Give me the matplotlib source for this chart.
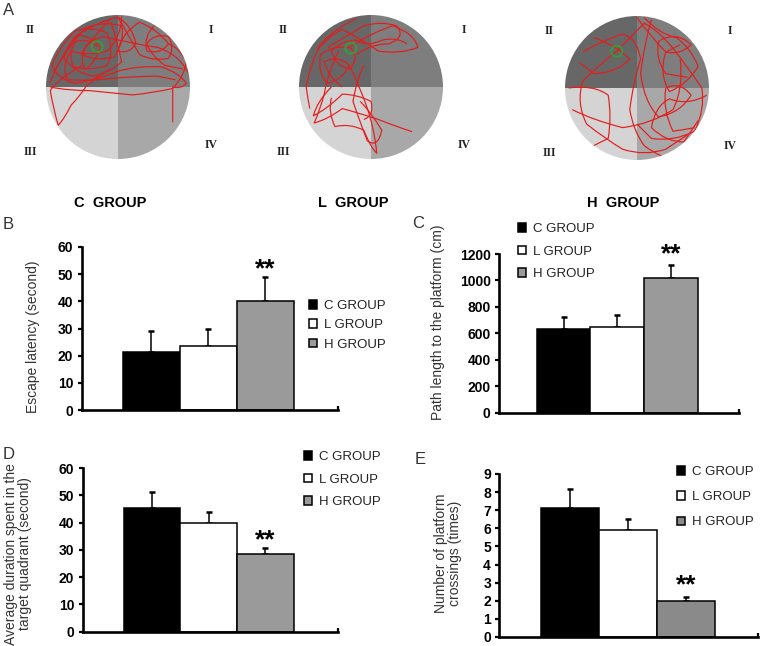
import numpy as np
import matplotlib
matplotlib.use("Agg")
import matplotlib.pyplot as plt
from matplotlib.patches import Wedge, Circle, PathPatch
from matplotlib.path import Path

plt.rcParams['font.family'] = ['Liberation Sans', 'DejaVu Sans']

# ---- data -------------------------------------------------------------
groups = ["C GROUP", "L GROUP", "H GROUP"]
group_titles = ["C  GROUP", "L  GROUP", "H  GROUP"]

escape_latency = [21.5, 23.5, 40.0]
escape_latency_err = [7.5, 6.3, 8.8]

path_length = [635, 645, 1015]
path_length_err = [85, 90, 105]

target_duration = [45.5, 40.0, 28.5]
target_duration_err = [5.8, 3.7, 2.3]

crossings = [7.15, 5.9, 2.0]
crossings_err = [1.0, 0.6, 0.2]

quadrant_labels = ["I", "II", "III", "IV"]

# swim tracks (unit circle coords, y up); odd points act as curve controls
swim_c = [
    [(-0.29, 0.56), (-0.45, 0.7), (-0.6, 0.62), (-0.7, 0.45), (-0.62, 0.28), (-0.4, 0.22),
     (-0.15, 0.3), (-0.05, 0.5), (-0.15, 0.75), (-0.35, 0.85), (-0.6, 0.78), (-0.82, 0.55),
     (-0.92, 0.3), (-0.85, 0.12), (-0.6, 0.05), (-0.3, 0.1), (0.0, 0.22), (0.3, 0.3),
     (0.6, 0.28), (0.85, 0.2), (0.95, 0.05), (0.88, -0.03), (0.76, 0.0), (0.76, -0.25),
     (0.76, -0.49)],
    [(-0.95, 0.05), (-0.8, 0.4), (-0.6, 0.7), (-0.3, 0.9), (0.0, 0.97), (0.2, 0.85),
     (0.25, 0.6), (0.15, 0.45), (0.0, 0.5), (0.05, 0.75), (0.3, 0.9), (0.55, 0.8),
     (0.7, 0.6), (0.6, 0.45), (0.4, 0.5), (0.35, 0.7), (0.5, 0.85)],
    [(-0.94, 0.0), (-0.7, -0.05), (-0.4, -0.05), (-0.1, -0.08), (0.2, -0.11), (0.5, -0.08),
     (0.76, -0.02), (0.92, 0.15), (0.95, 0.35), (0.85, 0.55), (0.7, 0.6)],
    [(-0.5, 0.3), (-0.85, 0.1), (-0.94, -0.05), (-0.9, -0.3), (-0.83, -0.53), (-0.75, -0.45),
     (-0.65, -0.25), (-0.53, -0.13), (-0.45, 0.0), (-0.3, 0.15), (-0.1, 0.25)],
    [(-0.1, 0.95), (-0.25, 0.8), (-0.45, 0.55), (-0.55, 0.35), (-0.45, 0.25), (-0.3, 0.35),
     (-0.25, 0.55), (-0.35, 0.7), (-0.55, 0.72), (-0.7, 0.6), (-0.75, 0.4), (-0.6, 0.2),
     (-0.35, 0.15), (-0.1, 0.2), (0.05, 0.35), (0.0, 0.6), (-0.1, 0.9)],
    [(0.0, 0.97), (0.15, 0.7), (0.3, 0.45), (0.5, 0.35), (0.7, 0.4), (0.8, 0.55),
     (0.7, 0.7), (0.5, 0.75), (0.4, 0.6), (0.45, 0.45), (0.65, 0.3), (0.8, 0.27),
     (0.9, 0.25)],
    [(-0.9, 0.2), (-0.7, 0.55), (-0.45, 0.82), (-0.2, 0.92), (0.05, 0.85), (0.1, 0.65),
     (-0.05, 0.42), (-0.3, 0.35), (-0.5, 0.45), (-0.45, 0.65), (-0.2, 0.7), (0.2, 0.6),
     (0.55, 0.55), (0.85, 0.45), (0.97, 0.2)],
    [(0.05, 0.98), (0.05, 0.7), (-0.15, 0.5), (-0.4, 0.42), (-0.65, 0.5), (-0.8, 0.3),
     (-0.7, 0.1), (-0.4, 0.08), (-0.1, 0.12), (0.25, 0.15), (0.55, 0.15), (0.7, 0.12),
     (0.8, 0.1)],
]
swim_l = [
    [(-0.28, 0.54), (-0.5, 0.6), (-0.7, 0.45), (-0.75, 0.2), (-0.6, 0.05), (-0.4, 0.1),
     (-0.3, 0.3), (-0.45, 0.45), (-0.65, 0.35), (-0.6, 0.15), (-0.4, 0.0)],
    [(-0.3, 0.55), (0.0, 0.75), (0.3, 0.85), (0.6, 0.75), (0.65, 0.55), (0.4, 0.45),
     (0.1, 0.5), (-0.1, 0.65), (-0.4, 0.8), (-0.6, 0.7), (-0.75, 0.5)],
    [(-0.45, 0.5), (-0.6, 0.2), (-0.65, -0.1), (-0.7, -0.3), (-0.79, -0.5), (-0.6, -0.45),
     (-0.4, -0.3), (-0.2, -0.35), (0.1, -0.45), (0.35, -0.55), (0.57, -0.62)],
    [(-0.3, 0.3), (-0.15, 0.0), (-0.05, -0.3), (0.05, -0.6), (0.08, -0.92), (0.0, -0.85),
     (-0.1, -0.6), (-0.3, -0.5), (-0.5, -0.55), (-0.6, -0.35), (-0.55, -0.15)],
    [(-0.55, 0.0), (-0.75, -0.2), (-0.8, -0.4), (-0.6, -0.3), (-0.4, -0.1), (-0.2, -0.1),
     (0.0, -0.2), (0.05, -0.4), (-0.1, -0.45)],
    [(-0.28, 0.54), (-0.15, 0.4), (-0.3, 0.25), (-0.5, 0.3), (-0.55, 0.5), (-0.4, 0.65),
     (-0.2, 0.65), (-0.05, 0.55), (0.15, 0.65), (0.35, 0.7), (0.5, 0.6)],
    [(-0.2, 0.95), (-0.45, 0.85), (-0.7, 0.6), (-0.85, 0.3), (-0.9, 0.0), (-0.88, -0.15),
     (-0.85, -0.3)],
    [(-0.6, 0.55), (-0.35, 0.7), (-0.1, 0.85), (0.15, 0.92), (0.35, 0.85), (0.5, 0.7),
     (0.25, 0.6), (0.0, 0.6), (-0.2, 0.45)],
    [(-0.1, 0.3), (-0.2, 0.1), (-0.25, -0.2), (-0.15, -0.5), (-0.05, -0.75), (0.1, -0.85),
     (0.15, -0.6), (0.0, -0.35), (-0.15, -0.2)],
]
swim_h = [
    [(-0.28, 0.51), (-0.1, 0.7), (0.1, 0.9), (0.3, 0.8), (0.5, 0.55), (0.7, 0.3),
     (0.9, 0.0), (0.95, -0.3), (0.8, -0.6), (0.5, -0.75), (0.2, -0.7), (0.1, -0.6),
     (0.0, -0.5)],
    [(-0.28, 0.51), (-0.5, 0.35), (-0.75, 0.1), (-0.85, -0.2), (-0.7, -0.5), (-0.45, -0.7),
     (-0.2, -0.85), (0.1, -0.95), (0.4, -0.85), (0.55, -0.75), (0.7, -0.65)],
    [(-0.95, 0.0), (-0.6, 0.05), (-0.4, -0.1), (-0.35, -0.4), (-0.4, -0.7), (-0.5, -0.75),
     (-0.6, -0.8)],
    [(0.0, 0.98), (0.2, 0.7), (0.4, 0.5), (0.6, 0.45), (0.75, 0.6), (0.55, 0.8),
     (0.3, 0.65), (0.25, 0.4), (0.4, 0.2), (0.55, 0.17), (0.7, 0.15)],
    [(0.2, 0.95), (0.1, 0.6), (0.05, 0.2), (0.1, -0.2), (0.3, -0.4), (0.6, -0.35),
     (0.75, -0.1), (0.6, 0.1), (0.4, 0.0), (0.35, -0.3), (0.5, -0.6), (0.65, -0.58),
     (0.8, -0.55)],
    [(-0.6, 0.7), (-0.3, 0.6), (-0.1, 0.4), (-0.3, 0.2), (-0.6, 0.2), (-0.7, 0.28),
     (-0.8, 0.35)],
    [(-0.9, -0.3), (-0.6, -0.45), (-0.2, -0.55), (0.2, -0.5), (0.5, -0.3), (0.65, 0.0),
     (0.6, 0.4)],
    [(0.1, 0.98), (0.3, 0.75), (0.55, 0.7), (0.75, 0.55), (0.85, 0.3), (0.7, 0.05),
     (0.45, -0.05), (0.3, 0.2), (0.4, 0.5), (0.5, 0.55), (0.6, 0.6)],
    [(-0.75, 0.5), (-0.5, 0.65), (-0.2, 0.75), (0.0, 0.7), (0.05, 0.4), (-0.05, 0.1),
     (-0.1, -0.3), (-0.05, -0.6), (0.1, -0.8), (0.2, -0.88), (0.35, -0.95)],
    [(0.97, -0.1), (0.7, -0.25), (0.45, -0.15), (0.25, -0.25), (0.2, -0.55), (0.4, -0.75),
     (0.65, -0.75), (0.75, -0.6), (0.85, -0.45)],
]
platform_xy = [(-0.29, 0.56), (-0.28, 0.54), (-0.28, 0.51)]

W, H = 762, 646
fig = plt.figure(figsize=(W / 100, H / 100), dpi=100)


def fax(left, top, right, bottom):
    # axes from pixel box
    return fig.add_axes([left / W, 1 - bottom / H, (right - left) / W, (bottom - top) / H])


def track_path(pts, cx, cy, r):
    pts = np.array(pts)
    verts = np.column_stack([cx + r * pts[:, 0], cy + r * pts[:, 1]])
    n = len(verts)
    codes = [Path.MOVETO] + [Path.CURVE3] * (n - 1)
    if (n - 1) % 2:
        codes[-1] = Path.LINETO
    return Path(verts, codes)


# ---- panel A: maze tracks --------------------------------------------
axA = fax(0, 0, W, 185)
axA.set_xlim(0, W)
axA.set_ylim(0, 185)
axA.axis("off")

centers = [(118, 98), (371, 98), (637, 97)]
R = 72
quad_colors = {"I": "#7e7e7e", "II": "#676767", "III": "#d4d4d4", "IV": "#a8a8a8"}
quad_angles = {"I": (0, 90), "II": (90, 180), "III": (180, 270), "IV": (270, 360)}
label_off = {"I": (93, 57), "II": (-88, 57), "III": (-88, -65), "IV": (93, -58)}

for (cx, cy), tracks, (px, py) in zip(centers, [swim_c, swim_l, swim_h], platform_xy):
    for q in quadrant_labels:
        t1, t2 = quad_angles[q]
        axA.add_patch(Wedge((cx, cy), R, t1, t2, facecolor=quad_colors[q], edgecolor="none"))
        dx, dy = label_off[q]
        axA.text(cx + dx, cy + dy, q, ha="center", va="center", fontsize=8.5,
                 fontweight="bold", family="Liberation Serif", color="#222222")
    clip = Circle((cx, cy), R, facecolor="none", edgecolor="none")
    axA.add_patch(clip)
    for tr in tracks:
        pp = PathPatch(track_path(tr, cx, cy, R), facecolor="none", edgecolor="#e51c1c",
                       lw=0.85, joinstyle="round")
        axA.add_patch(pp)
        pp.set_clip_path(clip)
    axA.add_patch(Circle((cx + R * px, cy + R * py), 5.5, facecolor="none",
                         edgecolor="#3a9a3a", lw=1.4))

fig.text(3 / W, 1 - 3 / H, "A", fontsize=12, va="top", ha="left", color="#333333")
for title, xc in zip(group_titles, [110, 353, 623]):
    fig.text(xc / W, 1 - 203 / H, title, fontsize=10.5, fontweight="bold",
             ha="center", va="center")


# ---- bar panels -------------------------------------------------------
def bar_panel(box, values, errs, ylim, yticks, hcolor, ylabel, ylab_xy, xlim,
              star_y, letter, letter_xy, leg_xy, leg_space):
    ax = fax(*box)
    x = np.arange(3)
    bars = ax.bar(x, values, width=1.0, color=["black", "white", hcolor],
                  edgecolor="black", linewidth=1.1, zorder=2)
    ax.errorbar(x, values, yerr=[[0, 0, 0], errs], fmt="none", ecolor="black",
                elinewidth=1.1, capsize=2, capthick=1.8, zorder=1)
    ax.set_xlim(*xlim)
    ax.set_ylim(*ylim)
    ax.set_yticks(yticks)
    ax.set_xticks([xlim[1]])
    ax.set_xticklabels([])
    ax.tick_params(axis="x", direction="in", length=3, width=1.6)
    ax.tick_params(axis="y", length=3, width=1.6, pad=3, labelsize=10)
    for lab in ax.get_yticklabels():
        lab.set_fontweight("bold")
    for s in ["top", "right"]:
        ax.spines[s].set_visible(False)
    for s in ["left", "bottom"]:
        ax.spines[s].set_linewidth(1.9)
    ax.annotate("**", (2, star_y), xytext=(0, -4), textcoords="offset points",
                ha="center", va="center", fontsize=19, fontweight="bold",
                annotation_clip=False)
    ax.text(ylab_xy[0], ylab_xy[1], ylabel, transform=ax.transAxes, rotation=90,
            ha="center", va="center", multialignment="center", fontsize=10,
            color="#333333", linespacing=1.0)
    fig.text(letter_xy[0] / W, 1 - letter_xy[1] / H, letter, fontsize=12,
             ha="left", va="top", color="#333333")
    ax.legend(bars, groups, loc="upper left",
              bbox_to_anchor=(leg_xy[0] / W, 1 - leg_xy[1] / H),
              bbox_transform=fig.transFigure, frameon=False, fontsize=9.5,
              handlelength=0.6, handleheight=0.6, handletextpad=0.5,
              labelspacing=leg_space, borderpad=0, borderaxespad=0,
              labelcolor="#222222")
    return ax


bar_panel((81.7, 247, 338, 410), escape_latency, escape_latency_err, (0, 60),
          range(0, 61, 10), "#9a9a9a", "Escape latency (second)", (-0.19, 0.45),
          (-1.22, 3.28), 54, "B", (3, 217), (309, 300), 0.55)
bar_panel((499, 254, 739, 412.7), path_length, path_length_err, (0, 1200),
          range(0, 1201, 200), "#9a9a9a", "Path length to the platform (cm)",
          (-0.255, 0.57), (-1.2, 3.26), 1240, "C", (412, 216), (518, 223), 0.8)
bar_panel((82.7, 468, 338, 631.7), target_duration, target_duration_err, (0, 60),
          range(0, 61, 10), "#9a9a9a",
          "Average duration spent in the\ntarget quadrant (second)",
          (-0.252, 0.475), (-1.22, 3.28), 35.7, "D", (3, 447), (304, 451), 0.8)
bar_panel((499.3, 474, 758, 637), crossings, crossings_err, (0, 9),
          range(0, 10), "#8a8a8a", "Number of platform\ncrossings (times)",
          (-0.198, 0.512), (-1.22, 3.24), 3.14, "E", (415, 452), (677, 466), 1.0)

fig.savefig("out.png", dpi=100)
